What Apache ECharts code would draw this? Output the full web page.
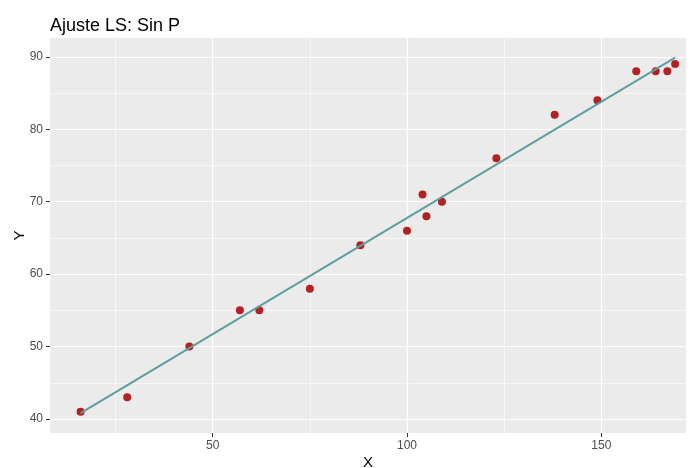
<!DOCTYPE html>
<html>
<head>
<meta charset="utf-8">
<script src="https://cdn.jsdelivr.net/npm/echarts@6/dist/echarts.min.js"></script>
<style>
  html, body { margin: 0; padding: 0; background: #ffffff; }
  #chart { width: 694px; height: 468px; }
</style>
</head>
<body>
<div id="chart"></div>
<script>
// Observed data
const xValues = [16, 28, 44, 57, 62, 75, 88, 100, 104, 105, 109, 123, 138, 149, 159, 164, 167, 169];
const yValues = [41, 43, 50, 55, 55, 58, 64, 66, 71, 68, 70, 76, 82, 84, 88, 88, 88, 89];

// Fitted least-squares line (endpoints)
const fitX = [16, 169];
const fitY = [40.8, 89.9];

// Tick labels and grid lines
const xTicks = [50, 100, 150];
const yTicks = [40, 50, 60, 70, 80, 90];
const xMinor = [25, 75, 125];
const yMinor = [45, 55, 65, 75, 85];

const FONT = 'Liberation Sans, Arial, sans-serif';

const points = xValues.map((x, i) => [x, yValues[i]]);
const fitLine = fitX.map((x, i) => [x, fitY[i]]);

const gridLines = []
  .concat(xMinor.map(v => ({ xAxis: v, lineStyle: { width: 0.6 } })))
  .concat(yMinor.map(v => ({ yAxis: v, lineStyle: { width: 0.6 } })))
  .concat(xTicks.map(v => ({ xAxis: v, lineStyle: { width: 1.2 } })))
  .concat(yTicks.map(v => ({ yAxis: v, lineStyle: { width: 1.2 } })));

const chart = echarts.init(document.getElementById('chart'), null, { renderer: 'canvas' });

chart.setOption({
  animation: false,
  backgroundColor: '#ffffff',
  textStyle: { fontFamily: FONT },
  title: {
    text: 'Ajuste LS: Sin P',
    left: 45,
    top: 12,
    textStyle: { fontFamily: FONT, fontSize: 18, fontWeight: 'normal', color: '#000000' }
  },
  grid: {
    left: 50, right: 8, top: 38, bottom: 35,
    outerBoundsMode: 'none',
    containLabel: false,
    show: true, backgroundColor: '#EBEBEB', borderWidth: 0
  },
  xAxis: {
    type: 'value',
    min: 8.13,
    max: 171.8,
    name: 'X',
    nameLocation: 'middle',
    nameGap: 22,
    nameMoveOverlap: false,
    nameTextStyle: { fontFamily: FONT, fontSize: 15, color: '#000000' },
    axisLine: { show: false },
    axisTick: { show: true, customValues: xTicks, length: 4, lineStyle: { color: '#333333', width: 1 } },
    axisLabel: { customValues: xTicks, color: '#4D4D4D', fontSize: 12, margin: 7, fontFamily: FONT },
    splitLine: { show: false }
  },
  yAxis: {
    type: 'value',
    min: 38.07,
    max: 92.6,
    name: 'Y',
    nameLocation: 'middle',
    nameGap: 23,
    nameMoveOverlap: false,
    nameRotate: 90,
    nameTextStyle: { fontFamily: FONT, fontSize: 15, color: '#000000' },
    axisLine: { show: false },
    axisTick: { show: true, customValues: yTicks, length: 4, lineStyle: { color: '#333333', width: 1 } },
    axisLabel: { customValues: yTicks, color: '#4D4D4D', fontSize: 12, margin: 7, fontFamily: FONT },
    splitLine: { show: false }
  },
  series: [
    {
      name: 'grid',
      type: 'line',
      data: [],
      z: 0,
      silent: true,
      markLine: {
        z: 1,
        silent: true,
        symbol: ['none', 'none'],
        label: { show: false },
        lineStyle: { color: '#ffffff', type: 'solid' },
        emphasis: { disabled: true },
        data: gridLines
      }
    },
    {
      name: 'observado',
      type: 'scatter',
      data: points,
      symbol: 'circle',
      symbolSize: 8,
      itemStyle: { color: '#B22222', opacity: 1 },
      z: 3
    },
    {
      name: 'ajuste',
      type: 'line',
      data: fitLine,
      showSymbol: false,
      symbol: 'none',
      lineStyle: { color: '#5F9EA0', width: 2 },
      z: 4
    }
  ]
});
</script>
</body>
</html>
